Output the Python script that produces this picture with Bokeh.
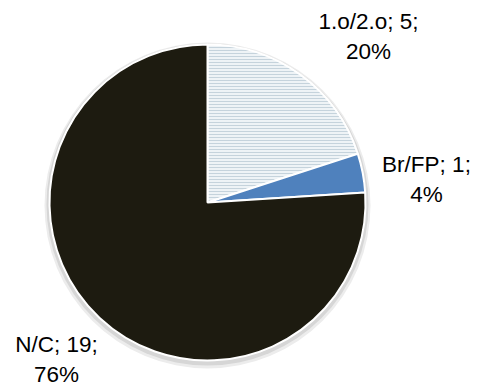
import math
from bokeh.plotting import figure
from bokeh.models import Range1d, ColumnDataSource
from bokeh.core.properties import value
from bokeh.embed import file_html
from bokeh.resources import INLINE

# ---- data ----
categories = ["1.o/2.o", "Br/FP", "N/C"]
counts = [5, 1, 19]
percent_labels = ["20%", "4%", "76%"]

# ---- styling / layout ----
colors = ["#eef3f6", "#4F81BD", "#1D1B10"]
W, H = 477, 387
cx, cy_img, R = 207, 202, 158
cy = H - cy_img
label_x = [368, 426, 56]
label_top_img = [8, 151, 331]

p = figure(width=W, height=H, x_range=Range1d(0, W), y_range=Range1d(0, H),
           output_backend="svg", toolbar_location=None, min_border=0)
p.axis.visible = False
p.grid.visible = False
p.outline_line_color = None
p.background_fill_color = "white"
p.border_fill_color = "white"

total = sum(counts)
starts, ends = [], []
cum = 0
for n in counts:
    starts.append(math.pi / 2 - 2 * math.pi * cum / total)
    cum += n
    ends.append(math.pi / 2 - 2 * math.pi * cum / total)

# soft drop shadow
p.scatter(x=[cx], y=[cy - 3], size=2 * R + 10, marker="circle",
          fill_color="#ececec", line_color=None)
p.scatter(x=[cx], y=[cy - 2], size=2 * R + 6, marker="circle",
          fill_color="#d6d6d6", line_color=None)

src = ColumnDataSource(dict(start=starts, end=ends, color=colors,
                            hatch=["horizontal_line", " ", " "]))
p.wedge(x=cx, y=cy, radius=R, start_angle="start", end_angle="end", direction="clock",
        source=src, fill_color="color", line_color="white", line_width=2,
        hatch_pattern="hatch", hatch_color="#c5d3dc", hatch_scale=3, hatch_weight=1)

texts = [f"{c}; {n};\n{pc}" for c, n, pc in zip(categories, counts, percent_labels)]
ly = [H - t for t in label_top_img]
p.text(x=label_x, y=ly, text=texts, text_align="center", text_baseline="top",
       text_font=value("Liberation Sans"), text_font_size="22.5px", text_color="black",
       text_line_height=1.2)

open("out.html", "w").write(file_html(p, INLINE))
